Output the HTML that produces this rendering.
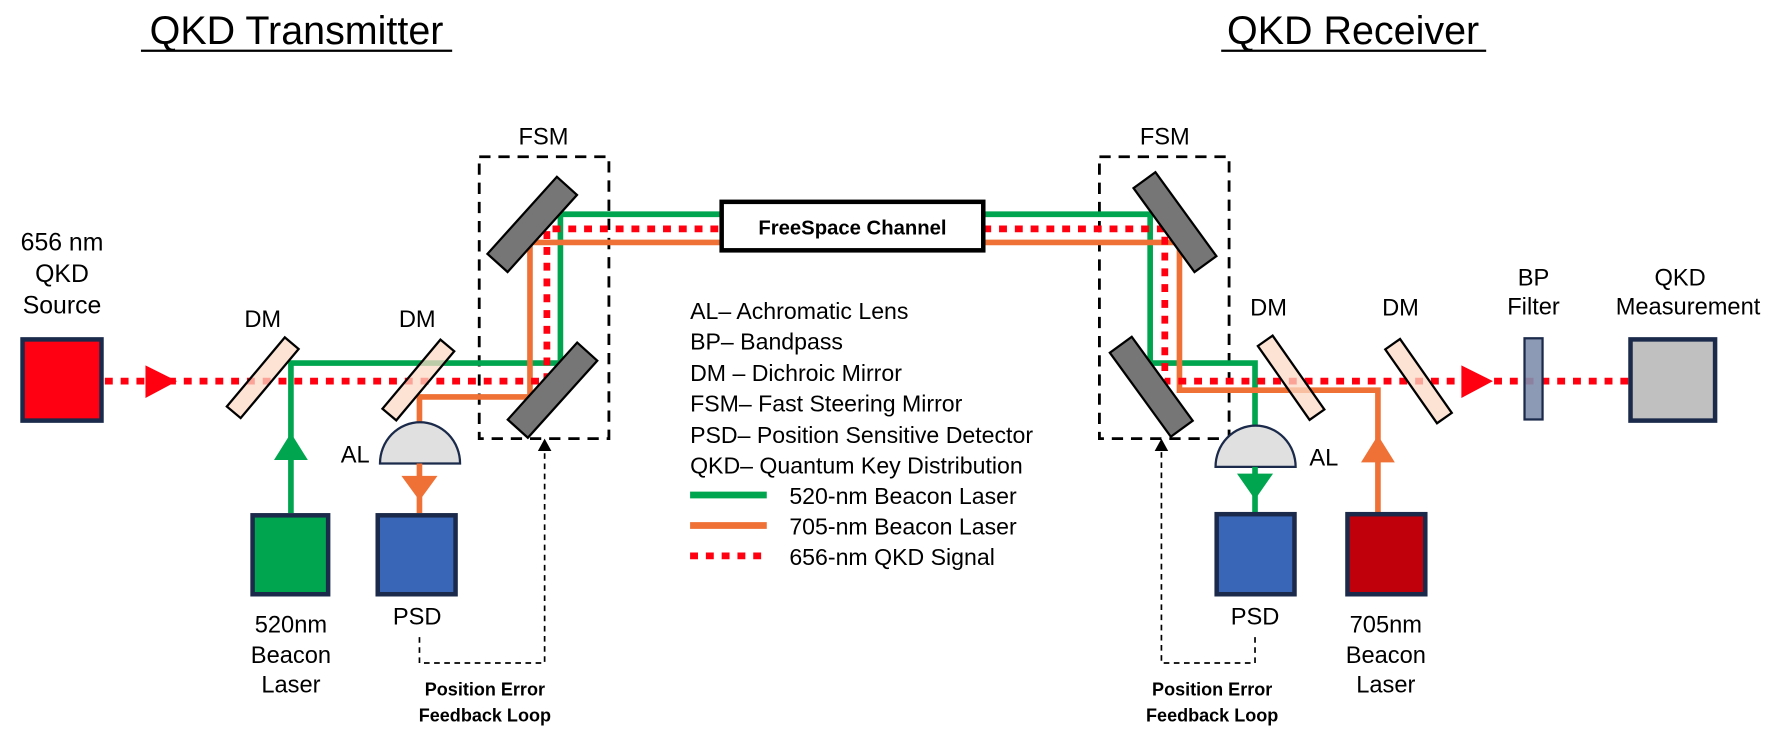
<!DOCTYPE html>
<html><head><meta charset="utf-8"><style>
html,body{margin:0;padding:0;background:#fff}
svg{display:block}
text{font-family:"Liberation Sans",Arial,sans-serif;fill:#000}
</style></head><body>
<svg width="1768" height="736" viewBox="0 0 1768 736" xmlns="http://www.w3.org/2000/svg">
<g transform="scale(1.1276)">
<!-- Titles -->
<text x="263" y="39" font-size="35" text-anchor="middle">QKD Transmitter</text>
<line x1="125" y1="45" x2="401" y2="45" stroke="#000" stroke-width="2"/>
<text x="1200" y="39" font-size="35" text-anchor="middle">QKD Receiver</text>
<line x1="1083" y1="45" x2="1318" y2="45" stroke="#000" stroke-width="2"/>

<!-- FSM boxes -->
<rect x="425" y="139" width="115" height="250" fill="none" stroke="#000" stroke-width="2.5" stroke-dasharray="10,7"/>
<text x="482" y="128" font-size="21" text-anchor="middle">FSM</text>
<rect x="975" y="139" width="115" height="250" fill="none" stroke="#000" stroke-width="2.5" stroke-dasharray="10,7"/>
<text x="1033" y="128" font-size="21" text-anchor="middle">FSM</text>

<!-- Beams -->
<g fill="none" stroke-width="5">
<polyline points="258,455 258,322 497,322 497,190 640,190" stroke="#00a54f"/>
<polyline points="372,375 372,352 470,352 470,215 640,215" stroke="#ef7135"/>
<polyline points="872,190 1020,190 1020,322 1113,322 1113,378" stroke="#00a54f"/>
<polyline points="872,215 1046,215 1046,346 1222,346 1222,455" stroke="#ef7135"/>
</g>
<g fill="none" stroke="#ff0010" stroke-width="6" stroke-dasharray="7,7">
<polyline points="93,338 485,338 485,203 640,203"/>
<polyline points="872,203 1033,203 1033,338 1445,338"/>
</g>
<polygon points="129,324 129,353 157,338" fill="#ff0010"/>
<polygon points="1296,324 1296,353 1324,338" fill="#ff0010"/>

<!-- FreeSpace channel -->
<rect x="640" y="179" width="232" height="43" fill="#fff" stroke="#000" stroke-width="4"/>
<text x="756" y="208" font-size="18" font-weight="bold" text-anchor="middle">FreeSpace Channel</text>

<!-- FSM mirrors -->
<g fill="#767676" stroke="#000" stroke-width="2">
<rect x="-46" y="-12" width="92" height="24" transform="translate(472,199) rotate(-48)"/>
<rect x="-46" y="-12" width="92" height="24" transform="translate(490,346) rotate(-48)"/>
<rect x="-46" y="-12" width="92" height="24" transform="translate(1042,197) rotate(54)"/>
<rect x="-46" y="-12" width="92" height="24" transform="translate(1021,343) rotate(54)"/>
</g>
<!-- DMs -->
<g fill="#fbd9c6" fill-opacity="0.75" stroke="#000" stroke-width="2">
<rect x="-40" y="-8" width="80" height="16" transform="translate(233,335) rotate(-50)"/>
<rect x="-40" y="-8" width="80" height="16" transform="translate(371,337) rotate(-50)"/>
<rect x="-40" y="-8" width="80" height="16" transform="translate(1145,335) rotate(55)"/>
<rect x="-40" y="-8" width="80" height="16" transform="translate(1258,338) rotate(55)"/>
</g>
<text x="233" y="290" font-size="21" text-anchor="middle">DM</text>
<text x="370" y="290" font-size="21" text-anchor="middle">DM</text>
<text x="1125" y="280" font-size="21" text-anchor="middle">DM</text>
<text x="1242" y="280" font-size="21" text-anchor="middle">DM</text>

<!-- Source -->
<text x="55" y="222" font-size="22" text-anchor="middle">656 nm</text>
<text x="55" y="250" font-size="22" text-anchor="middle">QKD</text>
<text x="55" y="278" font-size="22" text-anchor="middle">Source</text>
<rect x="20" y="301" width="70" height="72" fill="#ff0013" stroke="#1b2a4a" stroke-width="4"/>

<!-- transmitter lower -->
<polygon points="243,408 273,408 258,384" fill="#00a54f"/>
<rect x="224" y="457" width="67" height="70" fill="#00a54f" stroke="#1b2a4a" stroke-width="4"/>
<text x="258" y="561" font-size="21" text-anchor="middle">520nm</text>
<text x="258" y="588" font-size="21" text-anchor="middle">Beacon</text>
<text x="258" y="614" font-size="21" text-anchor="middle">Laser</text>

<path d="M337,411 A35,36 0 0 1 408,411 Z" fill="#e0e0e0" stroke="#1b2a4a" stroke-width="2"/>
<text x="315" y="410" font-size="21" text-anchor="middle">AL</text>
<line x1="372" y1="411" x2="372" y2="455" stroke="#ef7135" stroke-width="5"/>
<polygon points="356,422 388,422 372,444" fill="#ef7135"/>
<rect x="335" y="457" width="69" height="70" fill="#3a66b8" stroke="#1b2a4a" stroke-width="4"/>
<text x="370" y="554" font-size="21" text-anchor="middle">PSD</text>

<polyline points="372,565 372,588 483,588 483,398" fill="none" stroke="#000" stroke-width="1.5" stroke-dasharray="5,4"/>
<polygon points="477,400 489,400 483,389" fill="#000"/>
<text x="430" y="617" font-size="16" font-weight="bold" text-anchor="middle">Position Error</text>
<text x="430" y="640" font-size="16" font-weight="bold" text-anchor="middle">Feedback Loop</text>

<!-- legend -->
<g font-size="20.5">
<text x="612" y="283">AL– Achromatic Lens</text>
<text x="612" y="310">BP– Bandpass</text>
<text x="612" y="338">DM – Dichroic Mirror</text>
<text x="612" y="365">FSM– Fast Steering Mirror</text>
<text x="612" y="393">PSD– Position Sensitive Detector</text>
<text x="612" y="420">QKD– Quantum Key Distribution</text>
<text x="700" y="447">520-nm Beacon Laser</text>
<text x="700" y="474">705-nm Beacon Laser</text>
<text x="700" y="501">656-nm QKD Signal</text>
</g>
<line x1="612" y1="439" x2="680" y2="439" stroke="#00a54f" stroke-width="6"/>
<line x1="612" y1="466" x2="680" y2="466" stroke="#ef7135" stroke-width="6"/>
<line x1="612" y1="493" x2="680" y2="493" stroke="#ff0010" stroke-width="6" stroke-dasharray="7,7"/>

<!-- receiver lower -->
<path d="M1078,414 A35,36 0 0 1 1149,414 Z" fill="#e0e0e0" stroke="#1b2a4a" stroke-width="2"/>
<text x="1174" y="413" font-size="21" text-anchor="middle">AL</text>
<line x1="1113" y1="414" x2="1113" y2="455" stroke="#00a54f" stroke-width="5"/>
<polygon points="1097,420 1129,420 1113,443" fill="#00a54f"/>
<rect x="1079" y="456" width="69" height="71" fill="#3a66b8" stroke="#1b2a4a" stroke-width="4"/>
<text x="1113" y="554" font-size="21" text-anchor="middle">PSD</text>

<polygon points="1207,410 1237,410 1222,386" fill="#ef7135"/>
<rect x="1195" y="456" width="69" height="71" fill="#c0000b" stroke="#1b2a4a" stroke-width="4"/>
<text x="1229" y="561" font-size="21" text-anchor="middle">705nm</text>
<text x="1229" y="588" font-size="21" text-anchor="middle">Beacon</text>
<text x="1229" y="614" font-size="21" text-anchor="middle">Laser</text>

<polyline points="1113,565 1113,588 1030,588 1030,398" fill="none" stroke="#000" stroke-width="1.5" stroke-dasharray="5,4"/>
<polygon points="1024,400 1036,400 1030,389" fill="#000"/>
<text x="1075" y="617" font-size="16" font-weight="bold" text-anchor="middle">Position Error</text>
<text x="1075" y="640" font-size="16" font-weight="bold" text-anchor="middle">Feedback Loop</text>

<!-- BP filter & measurement -->
<text x="1360" y="253" font-size="21" text-anchor="middle">BP</text>
<text x="1360" y="279" font-size="21" text-anchor="middle">Filter</text>
<rect x="1352" y="300" width="16" height="72" fill="#7f8fae" fill-opacity="0.9" stroke="#1b2a4a" stroke-width="2"/>
<text x="1490" y="253" font-size="21" text-anchor="middle">QKD</text>
<text x="1497" y="279" font-size="21" text-anchor="middle">Measurement</text>
<rect x="1446" y="301" width="75" height="72" fill="#c0c0c0" stroke="#1b2a4a" stroke-width="4"/>
</g>
</svg>
</body></html>
